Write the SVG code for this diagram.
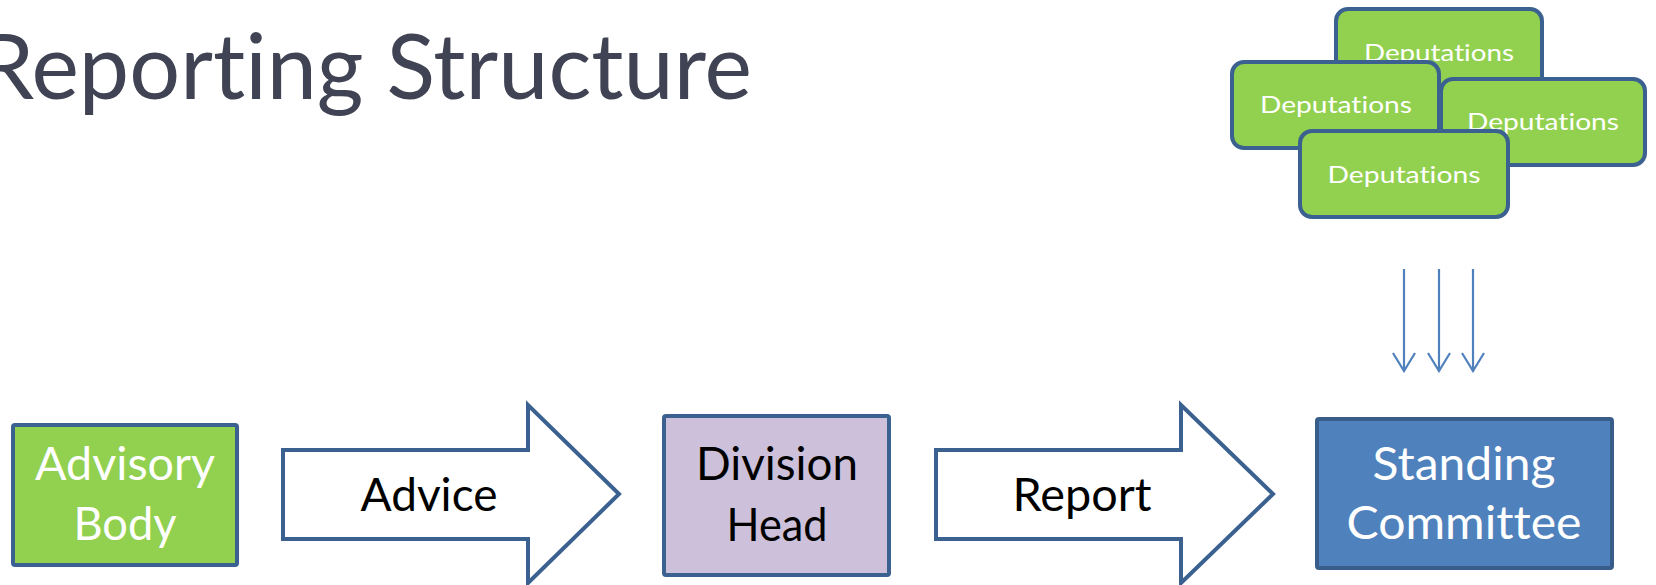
<svg xmlns="http://www.w3.org/2000/svg" width="1656" height="585" viewBox="0 0 1656 585">
<style>
  text { font-variant-ligatures: none; font-feature-settings: "liga" 0, "clig" 0; }
  .title { font-family: Lato, "Open Sans", sans-serif; font-size: 92px; fill: #404354; }
  .box { stroke: #3B6190; stroke-width: 4; }
  .green { fill: #92D050; }
  .purple { fill: #CCC0DA; }
  .blue { fill: #4F81BD; stroke: #385D8A; }
  .dep { fill: #92D050; stroke: #3B6190; stroke-width: 4; }
  .lbl { font-family: Lato, "Open Sans", sans-serif; font-size: 47px; text-anchor: middle; }
  .deplbl { font-family: Lato, "Open Sans", sans-serif; font-size: 24px; text-anchor: middle; fill: #FFFFFF; }
  .white { fill: #FFFFFF; }
  .black { fill: #000000; }
  .barrow { fill: #FFFFFF; stroke: #3B6190; stroke-width: 4; stroke-linejoin: miter; }
  .thin { stroke: #4F81BD; stroke-width: 2.2; fill: none; }
</style>
<defs>
  <marker id="vhead" markerUnits="userSpaceOnUse" markerWidth="22" markerHeight="26" viewBox="0 0 22 26" refX="20" refY="13" orient="auto">
    <path d="M2,2 L20,13 L2,24" fill="none" stroke="#4F81BD" stroke-width="2.2"/>
  </marker>
</defs>

<g id="title">
  <text class="title" x="-22" y="99" textLength="774" lengthAdjust="spacingAndGlyphs">Reporting Structure</text>
</g>

<g id="deputations">
  <g id="dep-back">
    <rect class="dep" x="1336" y="9" width="206" height="86" rx="12"/>
    <text class="deplbl" x="1439" y="61" textLength="150" lengthAdjust="spacingAndGlyphs">Deputations</text>
  </g>
  <g id="dep-left">
    <rect class="dep" x="1232" y="62" width="207" height="86" rx="12"/>
    <text class="deplbl" x="1336" y="113" textLength="152" lengthAdjust="spacingAndGlyphs">Deputations</text>
  </g>
  <g id="dep-right">
    <rect class="dep" x="1441" y="79" width="204" height="86" rx="12"/>
    <text class="deplbl" x="1543" y="130" textLength="152" lengthAdjust="spacingAndGlyphs">Deputations</text>
  </g>
  <g id="dep-front">
    <rect class="dep" x="1300" y="131" width="208" height="86" rx="12"/>
    <text class="deplbl" x="1404" y="183" textLength="153" lengthAdjust="spacingAndGlyphs">Deputations</text>
  </g>
</g>

<g id="advisory-body">
  <rect class="box green" x="13" y="425" width="224" height="140" rx="2"/>
  <text class="lbl white" x="125" y="480" textLength="180" lengthAdjust="spacingAndGlyphs">Advisory</text>
  <text class="lbl white" x="125" y="540" textLength="103" lengthAdjust="spacingAndGlyphs">Body</text>
</g>

<g id="division-head">
  <rect class="box purple" x="664" y="416" width="225" height="159" rx="2"/>
  <text class="lbl black" x="777" y="480" textLength="162" lengthAdjust="spacingAndGlyphs">Division</text>
  <text class="lbl black" x="777" y="541" textLength="101" lengthAdjust="spacingAndGlyphs">Head</text>
</g>

<g id="standing-committee">
  <rect class="box blue" x="1317" y="419" width="295" height="149" rx="2"/>
  <text class="lbl white" x="1464" y="480" textLength="183" lengthAdjust="spacingAndGlyphs">Standing</text>
  <text class="lbl white" x="1464" y="539" textLength="235" lengthAdjust="spacingAndGlyphs">Committee</text>
</g>

<g id="connectors">
  <g id="advice-arrow">
    <path class="barrow" d="M283,450 L528,450 L528,405 L619,494 L528,583 L528,539 L283,539 Z"/>
    <text class="lbl black" x="429" y="511" textLength="137" lengthAdjust="spacingAndGlyphs">Advice</text>
  </g>
  <g id="report-arrow">
    <path class="barrow" d="M936,450 L1181,450 L1181,405 L1273,494 L1181,583 L1181,539 L936,539 Z"/>
    <text class="lbl black" x="1082" y="511" textLength="139" lengthAdjust="spacingAndGlyphs">Report</text>
  </g>
  <g id="deputation-arrows">
    <line class="thin" x1="1404" y1="269" x2="1404" y2="371" marker-end="url(#vhead)"/>
    <line class="thin" x1="1439" y1="269" x2="1439" y2="371" marker-end="url(#vhead)"/>
    <line class="thin" x1="1473" y1="269" x2="1473" y2="371" marker-end="url(#vhead)"/>
  </g>
</g>
</svg>
